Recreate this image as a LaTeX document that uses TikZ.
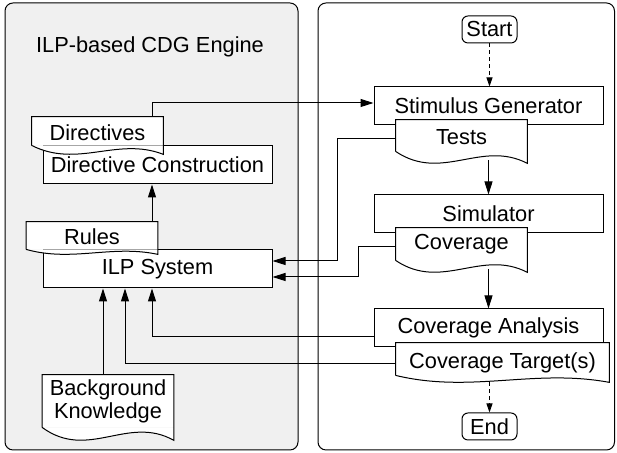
\documentclass[tikz,border=0pt]{standalone}
\usepackage{fontspec}
\setmainfont{Liberation Sans}
\usetikzlibrary{arrows.meta, calc}
\tikzset{
x=0.5pt, y=0.5pt, % one unit is one pixel of the sketch
every node/.style={font=\fontsize{10.9}{12.5}\selectfont},
panel/.style={draw, line width=0.5pt, rounded corners=4pt}, % the two big frames
box/.style={draw, fill=white, line width=0.5pt, minimum width=114.5pt, minimum height=19pt, inner sep=0pt}, % process steps
doc/.style={fill=white, minimum width=65.5pt, inner sep=0pt}, % straight part of a document, outline drawn by \docoutline
docline/.style={doc, text height=11.5pt, text depth=2pt}, % one line documents, text sits a bit low
term/.style={draw, fill=white, rounded corners=3pt, line width=0.5pt, minimum width=27.5pt, minimum height=13.5pt, inner sep=0pt}, % start and end
arr/.style={-{Triangle[length=6.5pt,width=4pt]}, line width=0.5pt},
dasharr/.style={-{Triangle[length=4.5pt,width=3pt]}, line width=0.5pt, dash pattern=on 2pt off 1.5pt},
}
% #1 = document node, #2 = how far the right corner hangs below the left one
\newcommand{\docoutline}[2]{%
\fill[white] (#1.south west) -- (#1.south east) -- ($(#1.south east)+(0,-#2)$)
  .. controls ($(#1.south west)!0.65!(#1.south east)+(0,#2)$) and ($(#1.south west)!0.35!(#1.south east)+(0,-2.6*#2)$) .. (#1.south west) -- cycle;
\draw[line width=0.5pt] (#1.south west) -- (#1.north west) -- (#1.north east) -- ($(#1.south east)+(0,-#2)$)
  .. controls ($(#1.south west)!0.65!(#1.south east)+(0,#2)$) and ($(#1.south west)!0.35!(#1.south east)+(0,-2.6*#2)$) .. (#1.south west);
}

\begin{document}
\begin{tikzpicture}
\useasboundingbox (0,0) rectangle (617,453);
% frames
\draw[panel, fill=gray!12] (5,3) rectangle (298,450);
\draw[panel, fill=white] (318,3) rectangle (614.5,450);
\node (title) at (150,406) {ILP-based CDG Engine};
% engine side
\node[box] (dircons) at (157.5,288) {Directive Construction};
\node[docline, minimum height=14pt] (directives) at (97.5,322) {Directives};
\docoutline{directives}{9}
\node[box] (ilp) at (157.5,184) {ILP System};
\node[docline, minimum height=12.5pt] (rules) at (92,217.5) {Rules};
\docoutline{rules}{5}
\node[doc, minimum height=26pt, align=center, font=\fontsize{10.9}{11.5}\selectfont] (bk) at (108,52) {Background\\Knowledge};
\docoutline{bk}{13}
% verification flow
\node[term] (start) at (489.5,423.5) {Start};
\node[box] (stim) at (488.5,347) {Stimulus Generator};
\node[docline, minimum height=15.5pt] (tests) at (461.5,317.5) {Tests};
\docoutline{tests}{12}
\node[box] (sim) at (488.5,239) {Simulator};
\node[doc, minimum height=16pt] (cov) at (461.5,209) {Coverage};
\docoutline{cov}{12}
\node[box] (ca) at (488.5,125) {Coverage Analysis};
\node[docline, minimum width=106.5pt, minimum height=16pt] (ct) at (502.5,94) {Coverage Target(s)};
\docoutline{ct}{7}
\node[term] (finish) at (489.5,26.5) {End};
% connectors
\draw[dasharr] (start.south) -- (start.south |- stim.north);
\draw[arr] ($(tests.south -| stim.south)+(0,-9)$) -- (sim.north);
\draw[arr] ($(cov.south -| sim.south)+(0,-9)$) -- (ca.north);
\draw[dasharr] ($(ct.south -| finish.north)+(0,-7)$) -- (finish.north);
\draw[arr] ($(directives.north -| dircons.south)+(-5.5,0)$) |- ($(stim.west)+(0,3)$);
\draw[arr] ($(rules.north -| dircons.south)+(-5.5,0)$) -- ($(dircons.south)+(-5.5,0)$);
\draw[arr] ($(tests.west)+(0,-3.5)$) -| ($(ilp.east)+(65,8)$) -- ($(ilp.east)+(0,8)$);
\draw[arr] ($(cov.west)+(0,-3)$) -| ($(ilp.east)+(86,-8)$) -- ($(ilp.east)+(0,-8)$);
\draw[arr] ($(ca.west)+(0,-9)$) -| ($(ilp.south)+(-5.5,0)$);
\draw[arr] ($(ct.west)+(0,-5)$) -| ($(ilp.south)+(-32.5,0)$);
\draw[arr] ($(bk.north)+(-5,0)$) -- ($(ilp.south -| bk.north)+(-5,0)$);
\end{tikzpicture}
\end{document}
